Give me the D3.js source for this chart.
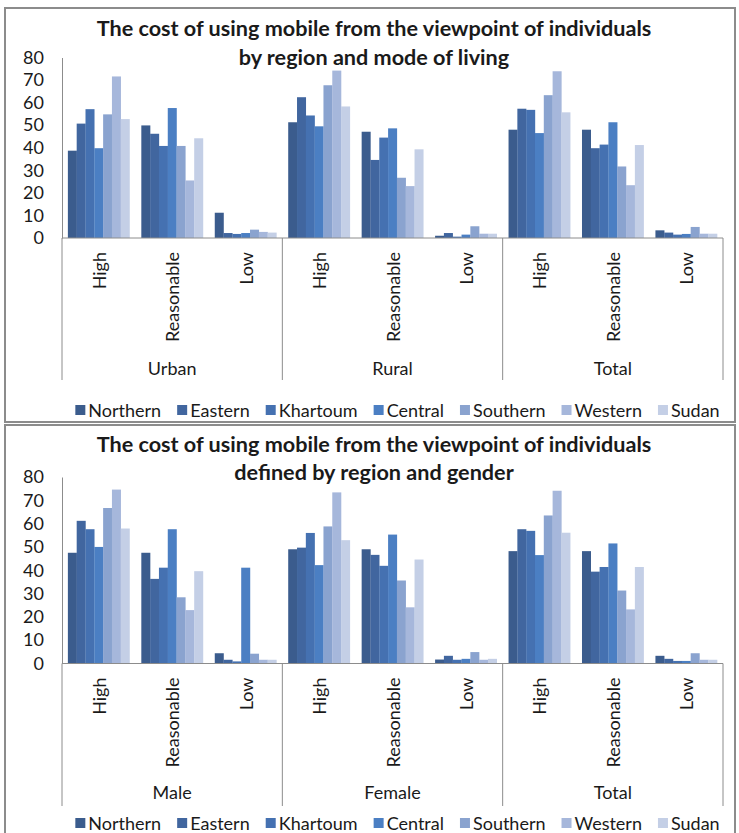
<!DOCTYPE html>
<html>
<head>
<meta charset="utf-8">
<script src="https://cdn.jsdelivr.net/npm/d3@7/dist/d3.min.js"></script>
<style>
  html, body { margin: 0; padding: 0; background: #fff; }
  svg { display: block; }
  text { font-family: Lato, "Open Sans", sans-serif; fill: #1a1a1a; }
</style>
</head>
<body>
<svg id="chart" width="739" height="833"></svg>
<script>
// ---------------- DATA ----------------
const regions = ["Northern", "Eastern", "Khartoum", "Central", "Southern", "Western", "Sudan"];
const levels = ["High", "Reasonable", "Low"];
const groupsLiving = ["Urban", "Rural", "Total"];
const groupsGender = ["Male", "Female", "Total"];
const yTicks = [0, 10, 20, 30, 40, 50, 60, 70, 80];
const title1 = ["The cost of using mobile from the viewpoint of individuals", "by region and mode of living"];
const title2 = ["The cost of using mobile from the viewpoint of individuals", "defined by region and gender"];

// values per region, order: G1-High, G1-Reasonable, G1-Low, G2-High, ... G3-Low
const livingNorthern = [38.7, 49.9, 11.2, 51.3, 47.1, 1.0, 48.0, 48.0, 3.4];
const livingEastern  = [50.7, 46.2, 2.2, 62.4, 34.6, 2.2, 57.3, 39.8, 2.4];
const livingKhartoum = [57.1, 40.8, 1.8, 54.3, 44.5, 0.6, 56.8, 41.4, 1.5];
const livingCentral  = [39.8, 57.6, 2.2, 49.5, 48.6, 1.5, 46.5, 51.3, 1.8];
const livingSouthern = [54.8, 40.8, 3.7, 67.7, 26.7, 5.2, 63.3, 31.7, 4.9];
const livingWestern  = [71.6, 25.5, 2.7, 74.2, 23.0, 1.9, 73.9, 23.4, 1.9];
const livingSudan    = [52.7, 44.2, 2.4, 58.3, 39.3, 1.9, 55.7, 41.2, 1.9];

const genderNorthern = [47.5, 47.5, 4.4, 49.0, 49.0, 1.7, 48.2, 48.2, 3.3];
const genderEastern  = [61.2, 36.3, 1.6, 49.7, 46.6, 3.3, 57.6, 39.4, 2.0];
const genderKhartoum = [57.6, 41.1, 0.9, 56.0, 41.9, 1.6, 56.9, 41.4, 1.1];
const genderCentral  = [50.0, 57.6, 41.1, 42.2, 55.3, 2.0, 46.5, 51.5, 1.1];
const genderSouthern = [66.7, 28.4, 4.2, 58.8, 35.6, 4.9, 63.5, 31.3, 4.4];
const genderWestern  = [74.6, 22.9, 1.6, 73.4, 24.1, 1.6, 74.1, 23.2, 1.6];
const genderSudan    = [57.9, 39.6, 1.6, 52.9, 44.6, 2.0, 56.1, 41.4, 1.6];

const colors = ["#3b5c8d", "#41669f", "#4571b1", "#4b7fc3", "#8aa3cf", "#a6b7db", "#c4cfe6"];

// ---------------- DRAW ----------------
const svg = d3.select("#chart");
const FS = 18;

function drawChart(cfg) {
  const g = svg.append("g");
  // frame
  g.append("rect").attr("x", cfg.frame[0]).attr("y", cfg.frame[1])
    .attr("width", cfg.frame[2]).attr("height", cfg.frame[3])
    .attr("fill", "#fff").attr("stroke", "#8c8c8c").attr("stroke-width", 2);

  // title (sized to the reference title width)
  const titles = cfg.title.map((t, i) =>
    g.append("text").attr("x", 374).attr("y", cfg.titleY[i])
      .attr("text-anchor", "middle").attr("dominant-baseline", "central")
      .attr("font-weight", "bold").attr("font-size", 20).text(t));
  const w0 = titles[0].node().getComputedTextLength();
  const tfs = 20 * 555 / w0;
  titles.forEach(t => t.attr("font-size", tfs));

  const cats = [];
  cfg.groups.forEach(gr => levels.forEach(l => cats.push(gr + "|" + l)));

  const x = d3.scaleBand().domain(cats).range([62, 723]).paddingInner(0.16).paddingOuter(0.08);
  const xs = d3.scaleBand().domain(regions).range([0, x.bandwidth()]);
  const y = d3.scaleLinear().domain([0, 80]).range([cfg.yBase, cfg.yTop]);

  // bars
  regions.forEach((r, ri) => {
    const vals = cfg.values[ri];
    g.append("g").selectAll("rect").data(vals).join("rect")
      .attr("x", (d, i) => x(cats[i]) + xs(r))
      .attr("y", d => y(d))
      .attr("width", xs.bandwidth() + 0.2)
      .attr("height", d => y(0) - y(d))
      .attr("fill", colors[ri]);
  });

  // y axis
  const yAxis = d3.axisLeft(y).tickValues(yTicks).tickSize(0).tickPadding(18);
  const ya = g.append("g").attr("transform", "translate(62,0)").call(yAxis);
  ya.select(".domain").attr("stroke", "#8c8c8c");
  ya.selectAll("text").attr("font-size", FS).attr("fill", "#1a1a1a")
    .style("font-family", "Lato, 'Open Sans', sans-serif");

  // x axis baseline
  const xa = d3.axisBottom(x).tickSize(0).tickFormat("");
  const xg = g.append("g").attr("transform", `translate(0,${cfg.yBase})`).call(xa);
  xg.select(".domain").attr("stroke", "#8c8c8c").attr("d", `M62,0H723`);

  // level labels (rotated)
  cats.forEach(c => {
    const cx = x(c) + x.bandwidth() / 2;
    g.append("text")
      .attr("transform", `translate(${cx},${cfg.yBase + 14}) rotate(-90)`)
      .attr("text-anchor", "end").attr("dominant-baseline", "central")
      .attr("font-size", FS).text(c.split("|")[1]);
  });

  // group dividers and labels
  const step = (723 - 62) / cfg.groups.length;
  d3.range(cfg.groups.length + 1).forEach(i => {
    g.append("line").attr("x1", 62 + i * step).attr("x2", 62 + i * step)
      .attr("y1", cfg.yBase).attr("y2", cfg.divBottom)
      .attr("stroke", "#8c8c8c").attr("stroke-width", 1);
  });
  cfg.groups.forEach((gr, i) => {
    g.append("text").attr("x", 62 + step * (i + 0.5)).attr("y", cfg.groupY)
      .attr("text-anchor", "middle").attr("dominant-baseline", "central")
      .attr("font-size", FS).text(gr);
  });

  // legend
  const lg = g.append("g");
  let cursor = 0;
  const gap = 16;
  regions.forEach((r, i) => {
    const item = lg.append("g").attr("transform", `translate(${cursor},0)`);
    item.append("rect").attr("x", 0).attr("y", -5).attr("width", 10).attr("height", 10).attr("fill", colors[i]);
    const t = item.append("text").attr("x", 13).attr("y", 0).attr("dominant-baseline", "central")
      .attr("font-size", FS).text(r);
    cursor += 13 + t.node().getComputedTextLength() + gap;
  });
  const total = cursor - gap;
  lg.attr("transform", `translate(${397.5 - total / 2},${cfg.legendY})`);
}

drawChart({
  frame: [5, 8, 730, 414],
  title: title1, titleY: [28, 57],
  groups: groupsLiving,
  values: [livingNorthern, livingEastern, livingKhartoum, livingCentral, livingSouthern, livingWestern, livingSudan],
  yTop: 57.5, yBase: 238,
  divBottom: 380, groupY: 368, legendY: 410
});

drawChart({
  frame: [5, 425, 730, 420],
  title: title2, titleY: [444, 472],
  groups: groupsGender,
  values: [genderNorthern, genderEastern, genderKhartoum, genderCentral, genderSouthern, genderWestern, genderSudan],
  yTop: 477, yBase: 663.5,
  divBottom: 806, groupY: 792, legendY: 823
});
</script>
</body>
</html>
